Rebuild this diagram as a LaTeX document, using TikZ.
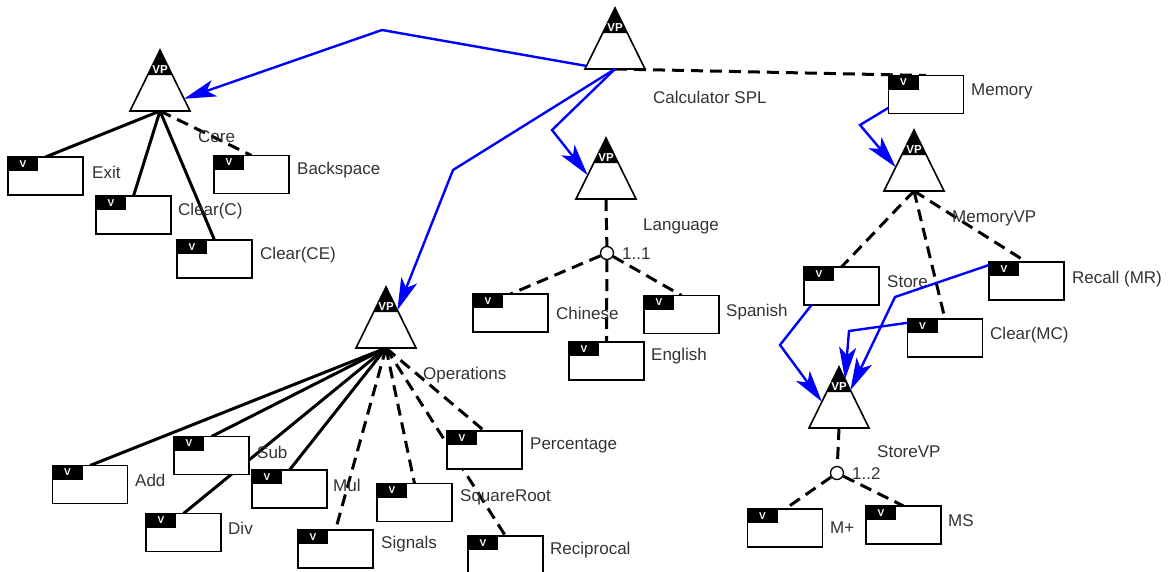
\documentclass[tikz,border=0pt]{standalone}
\usepackage{fontspec}
\setmainfont{Liberation Sans}
\usetikzlibrary{calc,arrows.meta}
\pgfdeclarelayer{bg}
\pgfdeclarelayer{paper}
\pgfsetlayers{paper,bg,main}
\newcommand\vptri[1]{%
  \filldraw[fill=white,line width=1.6pt,line join=miter] (#1.north) -- (#1.south east) -- (#1.south west) -- cycle;
  \fill (#1.north) -- ($(#1.north)!0.41!(#1.south east)$) -- ($(#1.north)!0.41!(#1.south west)$) -- cycle;
  \node[text=white,font=\bfseries\fontsize{11.5}{11.5}\selectfont,inner sep=0pt] (#1-vp) at ([yshift=-20pt]#1.north) {VP};}
\begin{document}
\begin{tikzpicture}[x=1pt,y=-1pt,
  vpt/.style={rectangle,minimum width=60pt,minimum height=61pt,inner sep=0pt,outer sep=0pt},
  vbox/.style={draw,line width=1.7pt,fill=white,minimum width=75pt,minimum height=38pt,inner sep=0pt,outer sep=0pt,
    path picture={\fill[black] (path picture bounding box.north west) rectangle ([xshift=30pt,yshift=-14pt]path picture bounding box.north west);
      \node[text=white,font=\bfseries\fontsize{10}{10}\selectfont,inner sep=0pt] at ([xshift=15pt,yshift=-7pt]path picture bounding box.north west) {V};}},
  lbl/.style={anchor=west,inner sep=0pt,font=\fontsize{17}{17}\selectfont,text=black!80},
  grp/.style={circle,draw,fill=white,line width=1.3pt,minimum size=13pt,inner sep=0pt},
  mand/.style={line width=3pt},
  opt/.style={line width=3pt,dash pattern=on 12pt off 7pt},
  bl/.style={draw=blue,line width=2.4pt,-{Stealth[length=32pt,width=17pt,inset=8pt]}}]
\begin{pgfonlayer}{paper}
\fill[white] (0,0) rectangle (1175,571);
\end{pgfonlayer}
\useasboundingbox (0,0) rectangle (1175,571);

% VP nodes
\node[vpt] (calc) at (615,38.5) {};
\node[vpt] (core) at (160,80.5) {};
\node[vpt] (lang) at (606,168.5) {};
\node[vpt] (memvp) at (914,160.5) {};
\node[vpt] (ops) at (386,317.5) {};
\node[vpt] (storevp) at (839,397.5) {};

% V boxes
\node[vbox] (exit) at (45.5,176) {};
\node[vbox] (clearc) at (133.5,215) {};
\node[vbox] (clearce) at (214.5,259) {};
\node[vbox] (backspace) at (251.5,174.5) {};
\node[vbox] (memory) at (926,94.5) {};
\node[vbox] (chinese) at (510.5,313) {};
\node[vbox] (spanish) at (681.5,314.5) {};
\node[vbox] (english) at (606.5,361) {};
\node[vbox] (store) at (841.5,286) {};
\node[vbox] (recall) at (1026.5,281) {};
\node[vbox] (clearmc) at (945,338) {};
\node[vbox] (mplus) at (785,528) {};
\node[vbox] (ms) at (903.5,525) {};
\node[vbox] (add) at (90,484.5) {};
\node[vbox] (sub) at (211.5,455.5) {};
\node[vbox] (mul) at (289.5,489) {};
\node[vbox] (div) at (183.5,532.5) {};
\node[vbox] (signals) at (335.5,549) {};
\node[vbox] (sqrt) at (414.5,502.5) {};
\node[vbox] (perc) at (484.5,450) {};
\node[vbox] (recip) at (505.5,555) {};

% group circles
\node[grp] (g1) at (607,253) {};
\node[grp] (g2) at (837,473) {};

% edges
\begin{pgfonlayer}{bg}
\draw[opt] (calc.south) -- (memory.north);
\draw[mand] (core.south) -- (exit.north);
\draw[mand] (core.south) -- (clearc.north);
\draw[mand] (core.south) -- (clearce.north);
\draw[opt] (core.south) -- (backspace.north);
\draw[opt] (lang.south) -- (g1);
\draw[opt] (g1) -- (chinese.north);
\draw[opt] (g1) -- (english.north);
\draw[opt] (g1) -- (spanish.north);
\draw[opt] (memvp.south) -- (store.north);
\draw[opt] (memvp.south) -- (clearmc.north);
\draw[opt] (memvp.south) -- (recall.north);
\draw[opt] (storevp.south) -- (g2);
\draw[opt] (g2) -- (mplus.north);
\draw[opt] (g2) -- (ms.north);
\draw[mand] (ops.south) -- (add.north);
\draw[mand] (ops.south) -- (sub.north);
\draw[mand] (ops.south) -- (mul.north);
\draw[mand] (ops.south) -- (div.north);
\draw[opt] (ops.south) -- (signals.north);
\draw[opt] (ops.south) -- (sqrt.north);
\draw[opt] (ops.south) -- (perc.north);
\draw[opt] (ops.south) -- (recip.north);
\end{pgfonlayer}

% triangles
\vptri{calc}
\vptri{core}
\vptri{lang}
\vptri{memvp}
\vptri{ops}
\vptri{storevp}

% labels
\node[lbl] (t-calc) at (653,97) {Calculator SPL};
\node[lbl] (t-core) at (198,137) {Core};
\node[lbl] (t-exit) at (92,172) {Exit};
\node[lbl] (t-clearc) at (178,211) {Clear(C)};
\node[lbl] (t-clearce) at (260,255) {Clear(CE)};
\node[lbl] (t-back) at (297,170) {Backspace};
\node[lbl] (t-lang) at (643,226) {Language};
\node[lbl] (t-g1) at (622,254) {1..1};
\node[lbl] (t-chinese) at (556,313) {Chinese};
\node[lbl] (t-spanish) at (726,312) {Spanish};
\node[lbl] (t-english) at (651,356) {English};
\node[lbl] (t-memory) at (971,91) {Memory};
\node[lbl] (t-memvp) at (952,218) {MemoryVP};
\node[lbl] (t-store) at (887,282) {Store};
\node[lbl] (t-recall) at (1072,279) {Recall (MR)};
\node[lbl] (t-clearmc) at (990,335) {Clear(MC)};
\node[lbl] (t-storevp) at (877,452) {StoreVP};
\node[lbl] (t-g2) at (852,474) {1..2};
\node[lbl] (t-mplus) at (830,528) {M+};
\node[lbl] (t-ms) at (948,521) {MS};
\node[lbl] (t-ops) at (423,375) {Operations};
\node[lbl] (t-add) at (135,480) {Add};
\node[lbl] (t-sub) at (257,452) {Sub};
\node[lbl] (t-mul) at (333,485) {Mul};
\node[lbl] (t-div) at (228,528) {Div};
\node[lbl] (t-signals) at (381,544) {Signals};
\node[lbl] (t-sqrt) at (460,497) {SquareRoot};
\node[lbl] (t-perc) at (530,445) {Percentage};
\node[lbl] (t-recip) at (550,550) {Reciprocal};

% blue refinement arrows
\coordinate (b1) at (382,30);
\coordinate (b2) at (453,170);
\coordinate (b3) at (552,130);
\coordinate (b4) at (860,125);
\coordinate (b5) at (780,345);
\coordinate (b6) at (849,331);
\coordinate (b7) at (895,297);
\draw[bl] ($(calc.north)!0.95!(calc.south west)$) -- (b1) -- ($(core.north)!0.8!(core.south east)$);
\draw[bl] (calc.south) -- (b2) -- ($(ops.north)!0.38!(ops.south east)$);
\draw[bl] (calc.south) -- (b3) -- ($(lang.north)!0.61!(lang.south west)$);
\draw[bl] ($(memory.south west)!0.15!(memory.north west)$) -- (b4) -- ($(memvp.north)!0.61!(memvp.south west)$);
\draw[bl] ($(store.south west)!0.1!(store.south east)$) -- (b5) -- ($(storevp.north)!0.57!(storevp.south west)$);
\draw[bl] ($(clearmc.north west)!0.1!(clearmc.south west)$) -- (b6) -- ($(storevp.north)!0.2!(storevp.south east)$);
\draw[bl] ($(recall.north west)!0.08!(recall.south west)$) -- (b7) -- ($(storevp.north)!0.38!(storevp.south east)$);
\end{tikzpicture}
\end{document}
